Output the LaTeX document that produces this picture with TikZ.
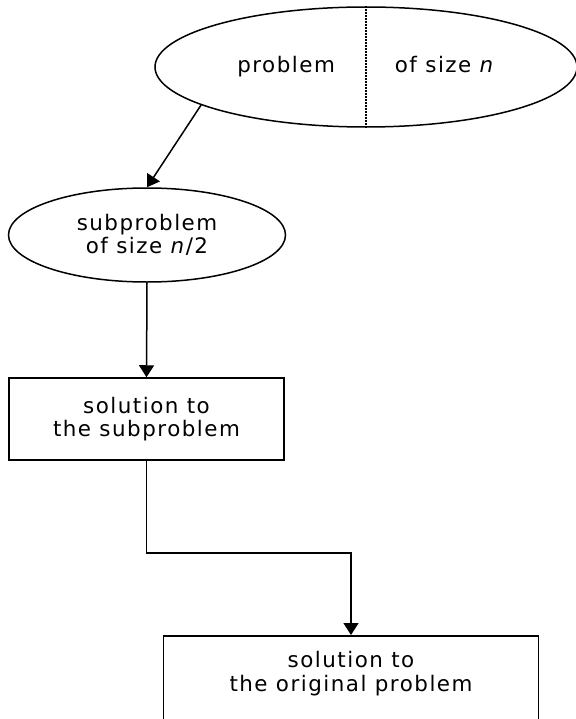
\documentclass[tikz,border=0pt]{standalone}
\usepackage{fontspec}
\setmainfont{DejaVu Sans}[LetterSpace=7]
\usepackage{tikz}
\usetikzlibrary{arrows.meta, positioning, shapes.geometric}

\begin{document}
\begin{tikzpicture}[x=1bp, y=-1bp, line width=1.5bp,
    >={Triangle[length=12bp, width=15bp]}]
            \tikzset{
                problem_node/.style={draw, shape = ellipse, inner sep=0pt, align=center},
                solution_node/.style={draw, shape = rectangle, inner sep=0pt, align=center},
                every node/.style={font=\fontsize{21.5}{23.6}\selectfont}
            }
            \useasboundingbox (0,0) rectangle (576,719);
            \node[problem_node, minimum width=422bp, minimum height=120bp] (prob) at (366,67)
                {problem\hspace{60bp}of size \textit{n}};
            \node[problem_node, minimum width=277bp, minimum height=94bp] (sub) at (147,235)
                {subproblem\\of size \textit{n}/2};
            \node[solution_node, minimum width=275bp, minimum height=82bp] (subsol) at (146.5,419)
                {solution to\\the subproblem};
            \node[solution_node, minimum width=375bp, text depth=46bp, anchor=north] (sol) at (351,635)
                {\rule{0pt}{32bp}solution to\\the original problem};
            \draw[dash pattern=on 1.5bp off 1.5bp, line width=1.2bp] (prob.north) -- (prob.south);
            \draw[->] (prob.193) -- (sub.north);
            \draw[->] (sub.south) -- (subsol.north);
            \draw[->] (subsol.south) -- ++(0,92) -| (sol.north);
        \end{tikzpicture}
\end{document}
